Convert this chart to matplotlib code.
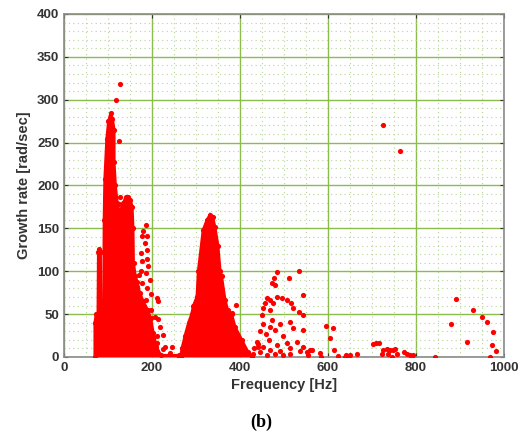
import numpy as np
import matplotlib.pyplot as plt
from matplotlib.ticker import MultipleLocator

# dense low-frequency cluster (upper envelope)
a_freq = [70, 70, 73, 77, 78, 80, 83, 84, 88, 90, 91, 92.5, 97, 101, 106, 110, 114, 114,
          117, 121, 125, 130, 135, 140, 146, 151, 155, 157, 158, 162, 166, 172, 180, 190,
          197, 203, 210, 220, 262, 262]
a_grow = [0, 40, 50, 50, 122, 126, 122, 45, 40, 60, 160, 207, 254, 275, 284, 278, 265, 227,
          200, 180, 170, 172, 180, 186, 187, 183, 175, 150, 110, 95, 88, 75, 65, 55,
          45, 28, 12, 2, 2, 0]

# second cluster around 330 Hz
b_freq = [265, 268, 275, 283, 290, 294, 302, 305, 316, 325, 332, 338, 343, 350, 355, 358,
          366, 372, 381, 389, 404, 418, 428]
b_grow = [0, 10, 25, 40, 50, 60, 70, 100, 148, 160, 166, 163, 152, 130, 100, 95,
          67, 55, 50, 35, 20, 6, 0]

# sparse points
pts_freq = [127, 117.5, 125, 127, 125, 128,
            186, 180, 189, 178, 184, 189, 175, 177, 189, 192, 175, 186, 170, 195, 177, 167,
            188, 197, 211, 213, 186, 175, 198, 207, 213, 218, 211, 226, 211, 241, 230,
            245, 271, 226, 283, 392, 381, 294, 298, 302,
            483, 533, 512, 477, 472, 480, 544, 461, 483, 495, 506, 468, 457, 475, 517,
            521, 453, 468, 533, 544, 449, 472, 491, 514, 453, 468, 521, 544, 480, 498,
            445, 438, 465, 529, 506, 483, 544, 453, 514, 432, 468, 491, 536, 445, 559,
            514, 552, 430, 480, 498, 461, 555, 442, 440, 458,
            595, 611, 605, 614, 623, 642, 639, 645, 650, 667, 563, 582, 585,
            725, 764,
            703, 709, 715, 722, 726, 733, 737, 741, 745, 748, 752, 756, 773, 779, 786, 794,
            844, 879, 891, 917, 929, 951, 961, 968, 973, 976, 982]
pts_grow = [318, 300, 252, 186, 178, 170,
            154, 147, 141, 141, 133, 125, 121, 112, 114, 106, 100, 98, 96, 90, 86, 82,
            80, 74, 69, 65, 67, 55, 55, 47, 44, 35, 25, 26, 16, 5, 12,
            12, 12, 9, 7, 61, 51, 43, 51, 70,
            99, 100, 92, 92, 86, 84, 72, 69, 70, 69, 67, 67, 63, 63, 63,
            57, 57, 55, 53, 49, 49, 43, 39, 41, 39, 35, 34, 32, 31, 24,
            30, 18, 20, 18, 16, 14, 12, 12, 10, 10, 8, 7, 7, 6, 8,
            4, 6, 4, 3, 2, 2, 2, 15, 12, 27,
            36, 34, 22, 8, 1, 2, 0, 0.5, 2, 3, 8, 5, 0,
            270, 240,
            15, 16, 16.5, 4, 8, 9, 3, 8, 0.5, 8, 9, 3, 5.5, 4, 2, 2,
            0.5, 39, 68, 17, 55, 47, 41, 0, 14, 29, 7]

x_ticks = [0, 200, 400, 600, 800, 1000]
y_ticks = [0, 50, 100, 150, 200, 250, 300, 350, 400]

red = '#ff0000'
plt.rcParams['font.family'] = 'Liberation Sans'
fig = plt.figure(figsize=(5.23, 4.36), dpi=100)
ax = fig.add_axes([0.1224, 0.1812, 0.8413, 0.7868])

ax.fill(a_freq, a_grow, color=red, lw=2, zorder=3)
ax.fill(b_freq, b_grow, color=red, lw=2, zorder=3)
ax.scatter(a_freq, a_grow, s=14, color=red, lw=0, zorder=3)
ax.scatter(b_freq, b_grow, s=14, color=red, lw=0, zorder=3)
ax.scatter(pts_freq, pts_grow, s=14, color=red, lw=0, zorder=3)

ax.set_xlim(0, 1000)
ax.set_ylim(0, 400)
ax.set_xticks(x_ticks)
ax.set_yticks(y_ticks)
ax.xaxis.set_minor_locator(MultipleLocator(50))
ax.yaxis.set_minor_locator(MultipleLocator(10))
ax.grid(True, which='major', color='#8cbc4c', lw=1.0, zorder=1)
ax.grid(True, which='minor', color='#b8d49a', lw=0.8, linestyle=(0, (1, 3)), zorder=1)
ax.set_axisbelow(True)

ax.tick_params(which='major', direction='in', length=3, top=True, right=True,
               labelsize=9.5, colors='#333333', width=0.8)
ax.tick_params(which='minor', length=0, top=True, right=True)
for lab in ax.get_xticklabels() + ax.get_yticklabels():
    lab.set_fontweight('bold')
for sp in ax.spines.values():
    sp.set_color('#8a8a8a')
    sp.set_linewidth(1.2)

ax.set_xlabel('Frequency [Hz]', fontsize=10.5, fontweight='bold', color='#333333', labelpad=3)
ax.set_ylabel('Growth rate [rad/sec]', fontsize=10.5, fontweight='bold', color='#333333', labelpad=4)
fig.text(0.5, 0.032, '(b)', ha='center', va='center', fontsize=13, fontweight='bold',
         family='Liberation Serif')

plt.savefig('out.png', dpi=100)
